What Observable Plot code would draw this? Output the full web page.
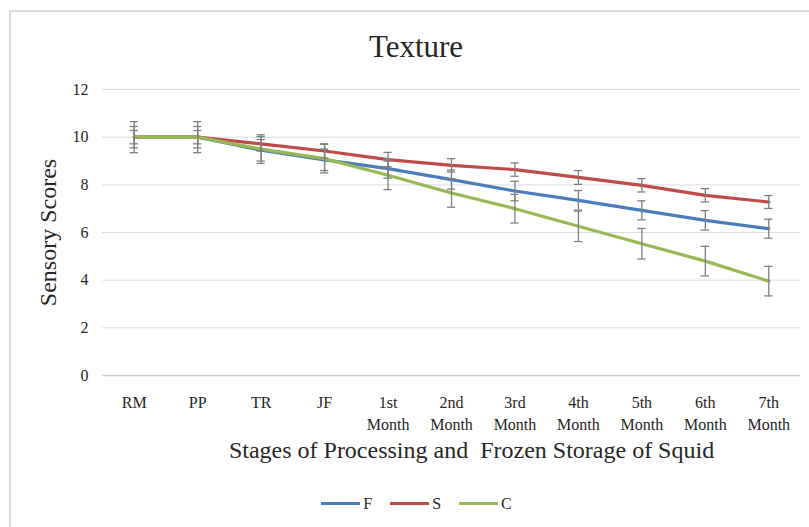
<!DOCTYPE html>
<html>
<head>
<meta charset="utf-8">
<script src="https://cdn.jsdelivr.net/npm/d3@7"></script>
<script src="https://cdn.jsdelivr.net/npm/@observablehq/plot@0.6"></script>
<style>
  html, body { margin: 0; padding: 0; background: #fff; }
  #wrap { position: relative; width: 809px; height: 527px; overflow: hidden; font-family: "Liberation Serif", "DejaVu Serif", serif; }
  #frame { position: absolute; left: 9px; top: 10px; width: 900px; height: 600px; border-left: 2px solid #dcdcdc; border-top: 2px solid #dcdcdc; pointer-events: none; }
  #chart svg { display: block; }
  #chart svg text { white-space: pre; font-family: "Liberation Serif", "DejaVu Serif", serif; }
  #legend { height: 47px; display: flex; align-items: center; justify-content: center; padding-left: 24px; box-sizing: border-box; font-size: 16px; color: #262626; }
  .item { display: flex; align-items: center; margin: 0 9px; }
  .swatch { width: 39px; height: 3px; margin-right: 3px; }
</style>
</head>
<body>
<div id="wrap">
  <div id="frame"></div>
  <div id="chart"></div>
  <div id="legend"></div>
</div>
<script>
// ---- data ----
const stages = ["RM", "PP", "TR", "JF", "1st Month", "2nd Month", "3rd Month", "4th Month", "5th Month", "6th Month", "7th Month"];
const series = ["F", "S", "C"];
const colors = ["#4A7EBB", "#BE4B48", "#98B954"];

const F = [10, 10, 9.45, 9.05, 8.68, 8.22, 7.74, 7.35, 6.93, 6.51, 6.16];
const S = [10, 10, 9.72, 9.42, 9.06, 8.82, 8.64, 8.31, 7.98, 7.56, 7.28];
const C = [10, 10, 9.50, 9.10, 8.40, 7.66, 7.00, 6.26, 5.53, 4.80, 3.96];

const errF = [0.45, 0.45, 0.45, 0.45, 0.40, 0.40, 0.41, 0.41, 0.40, 0.41, 0.40];
const errS = [0.28, 0.28, 0.30, 0.30, 0.30, 0.28, 0.28, 0.29, 0.28, 0.28, 0.27];
const errC = [0.65, 0.65, 0.60, 0.60, 0.60, 0.60, 0.60, 0.64, 0.64, 0.62, 0.62];

const yTicks = [0, 2, 4, 6, 8, 10, 12];
const title = "Texture";
const xTitle = "Stages of Processing and  Frozen Storage of Squid";
const yTitle = "Sensory Scores";

// ---- table ----
const values = [F, S, C];
const errs = [errF, errS, errC];
const rows = series.flatMap((s, k) => values[k].map((v, i) => ({series: s, i, stage: stages[i], v, e: errs[k][i]})));

const capHalf = 0.065;
const barColor = "#7f7f7f";

const chart = Plot.plot({
  width: 809,
  height: 480,
  marginLeft: 102,
  marginRight: 9,
  marginTop: 89,
  marginBottom: 105,
  style: {fontFamily: "'Liberation Serif', 'DejaVu Serif', serif", color: "#262626", background: "transparent"},
  x: {domain: [-0.5, stages.length - 0.5], axis: null},
  y: {domain: [0, 12], axis: null},
  color: {domain: series, range: colors},
  marks: [
    Plot.gridY(yTicks.filter(d => d !== 0), {stroke: "#dedede", strokeOpacity: 1, strokeWidth: 1}),
    Plot.ruleY([0], {stroke: "#cccccc", strokeWidth: 1.5}),
    Plot.axisY(yTicks, {tickSize: 0, tickPadding: 14, fontSize: 16, label: null}),
    Plot.text(stages, {x: (d, i) => i, text: d => d.replace(" ", "\n"), frameAnchor: "bottom", dy: 17, lineAnchor: "top", lineHeight: 1.375, fontSize: 16, fill: "#262626"}),
    Plot.line(rows, {x: "i", y: "v", z: "series", stroke: "series", strokeWidth: 3.2, curve: "linear"}),
    Plot.ruleX(rows, {x: "i", y1: d => d.v - d.e, y2: d => d.v + d.e, stroke: barColor, strokeWidth: 1.3}),
    Plot.ruleY(rows, {y: d => d.v + d.e, x1: d => d.i - capHalf, x2: d => d.i + capHalf, stroke: barColor, strokeWidth: 1.3}),
    Plot.ruleY(rows, {y: d => d.v - d.e, x1: d => d.i - capHalf, x2: d => d.i + capHalf, stroke: barColor, strokeWidth: 1.3}),
    Plot.text([yTitle], {frameAnchor: "left", textAnchor: "middle", dx: -54, rotate: -90, fontSize: 24, fill: "#262626"}),
    Plot.text([title], {frameAnchor: "top", textAnchor: "middle", dx: -35.5, dy: -33, lineAnchor: "bottom", fontSize: 31, fill: "#262626"}),
    Plot.text([xTitle], {frameAnchor: "bottom", textAnchor: "middle", dx: 20, dy: 82, lineAnchor: "bottom", fontSize: 24, fill: "#262626"})
  ]
});
document.getElementById("chart").appendChild(chart);

// ---- legend ----
const legend = document.getElementById("legend");
series.forEach((s, k) => {
  const item = document.createElement("div");
  item.className = "item";
  const sw = document.createElement("span");
  sw.className = "swatch";
  sw.style.background = colors[k];
  const lab = document.createElement("span");
  lab.textContent = s;
  item.appendChild(sw);
  item.appendChild(lab);
  legend.appendChild(item);
});
</script>
</body>
</html>
